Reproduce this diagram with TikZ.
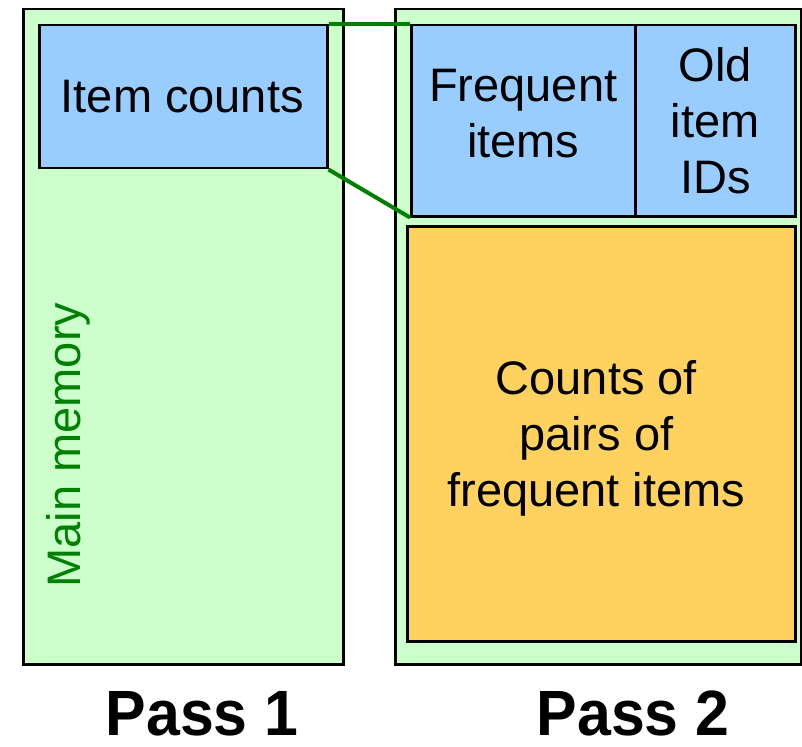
\documentclass[tikz,border=0pt]{standalone}
\usepackage{fontspec}
\setmainfont{Liberation Sans}
\definecolor{memgreen}{RGB}{204,255,204}
\definecolor{boxblue}{RGB}{153,204,255}
\definecolor{boxorange}{RGB}{255,210,95}
\definecolor{linegreen}{RGB}{0,128,0}
\begin{document}
\begin{tikzpicture}[x=1pt,y=-1pt,
  region/.style={draw=black,line width=2.5pt,inner sep=0pt,anchor=north west},
  mem/.style={region,fill=memgreen},
  bluebox/.style={region,fill=boxblue},
  orangebox/.style={region,fill=boxorange},
  txt/.style={inner sep=0pt,align=center,font=\fontsize{47}{56}\selectfont},
  link/.style={draw=linegreen,line width=4pt},
  passlabel/.style={font=\fontsize{64}{68}\selectfont\bfseries,inner sep=0pt}]
\useasboundingbox (0,0) rectangle (802,746);
\node[mem,minimum width=320pt,minimum height=655pt] (m1) at (22,8) {};
\node[mem,minimum width=406pt,minimum height=655pt] (m2) at (394,8) {};
\node[bluebox,minimum width=288pt,minimum height=143pt] (ic) at (38,24) {};
\node[bluebox,minimum width=224pt,minimum height=191pt] (fi) at (410,24) {};
\node[bluebox,minimum width=160pt,minimum height=191pt] (oid) at (634,24) {};
\node[orangebox,minimum width=388pt,minimum height=415pt] (cp) at (406,225) {};
\node[txt] (ict) at ([xshift=-1pt]ic.center) {Item counts};
\node[txt] (fit) at ([yshift=7pt]fi.center) {Frequent\\items};
\node[txt] (oidt) at (oid.center) {Old\\item\\IDs};
\node[txt] (cpt) at ([xshift=-5pt,yshift=-5pt]cp.center) {Counts of\\pairs of\\frequent items};
\node[txt,rotate=90,text=linegreen] (mm) at (68,445) {Main memory};
\draw[link] (ic.north east) -- (fi.north west);
\draw[link] (ic.south east) -- (fi.south west);
\node[passlabel] (p1) at (202,714) {\scalebox{0.95}[1]{Pass 1}};
\node[passlabel] (p2) at (633,713) {\scalebox{0.95}[1]{Pass 2}};
\end{tikzpicture}
\end{document}
